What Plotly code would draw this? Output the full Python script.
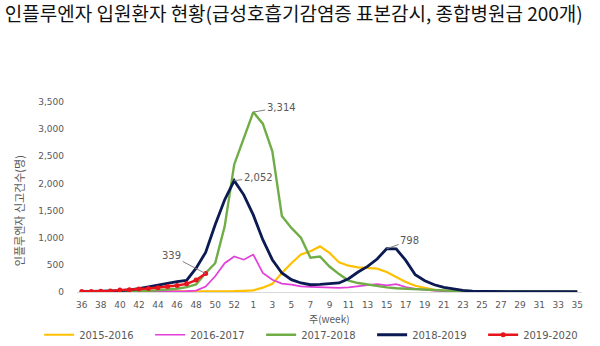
import plotly.graph_objects as go

weeks = [str(w) for w in list(range(36, 54)) + list(range(1, 36))]

s2015 = [3, 3, 3, 3, 3, 3, 4, 4, 5, 5, 5, 6, 6, 7, 8, 10, 15, 22,
         30, 80, 150, 350, 530, 690, 750, 840, 720, 545, 485, 455, 440, 430, 370,
         270, 185, 115, 75, 40, 25, 15, 10, 8, 6, 5, 5, 4, 4, 4, 3, 3, 3, 3, 3]
s2016 = [5, 5, 5, 5, 6, 6, 7, 8, 8, 10, 12, 15, 25, 100, 290, 530, 655, 595,
         690, 350, 225, 155, 135, 105, 95, 85, 80, 75, 85, 100, 128, 145, 122,
         145, 92, 60, 40, 25, 15, 10, 8, 6, 5, 5, 4, 4, 4, 3, 3, 3, 3, 3, 3]
s2017 = [3, 3, 4, 5, 7, 10, 14, 20, 30, 42, 60, 90, 140, 350, 530, 1210, 2350, 2830,
         3314, 3100, 2590, 1400, 1180, 1000, 630, 655, 470, 330, 210, 165, 135, 105, 85,
         70, 60, 50, 40, 30, 25, 20, 15, 12, 10, 10, 10, 12, 15, 18, 12, 8, 6, 5, 5]
s2018 = [5, 7, 10, 15, 25, 40, 60, 95, 128, 165, 190, 214, 440, 730, 1240, 1700, 2052, 1790,
         1420, 963, 595, 350, 227, 166, 134, 140, 150, 166, 245, 368, 472, 608, 798,
         795, 582, 318, 208, 134, 85, 55, 30, 15, 10, 8, 8, 7, 7, 6, 6, 6, 5, 5, 5]
s2019 = [8, 10, 15, 20, 35, 40, 55, 65, 80, 100, 120, 150, 220, 339]

series = [
    ("2015-2016", s2015, "#FFC000", 2.2),
    ("2016-2017", s2016, "#E33FD9", 1.7),
    ("2017-2018", s2017, "#70AD47", 2.4),
    ("2018-2019", s2018, "#0B1A52", 2.8),
]

labels = [("1", 3314, "3,314", 28, -5), ("52", 2052, "2,052", 24, -3),
          ("49", 339, "339", -34, -18), ("15", 798, "798", 23, -8)]

fig = go.Figure()
for name, vals, col, w in series:
    fig.add_trace(go.Scatter(x=weeks, y=vals, name=name, mode="lines",
                             line=dict(color=col, width=w)))
fig.add_trace(go.Scatter(x=weeks[:len(s2019)], y=s2019, name="2019-2020", mode="lines+markers",
                         line=dict(color="#E8141B", width=2.4),
                         marker=dict(color="#E8141B", size=5)))

for wk, yv, txt, ax, ay in labels:
    fig.add_annotation(x=weeks.index(wk), y=yv, xref="x", yref="y", text=txt, showarrow=True,
                       arrowhead=0, arrowwidth=1, arrowcolor="#808080",
                       ax=ax, ay=ay, font=dict(size=10, color="#595959"))

fig.add_annotation(text="인플루엔자 신고건수(명)", xref="paper", yref="paper", x=0, y=0.428,
                   xshift=-58.5, xanchor="center", yanchor="middle", textangle=-90,
                   showarrow=False, font=dict(family="Noto Sans CJK KR", size=11, color="#595959"))
fig.add_annotation(text="주(week)", xref="paper", yref="paper", x=0.5, y=-0.14,
                   xanchor="center", yanchor="middle", showarrow=False,
                   font=dict(family="Noto Sans CJK KR", size=10, color="#595959"))

fig.update_layout(
    width=600, height=346, autosize=False,
    margin=dict(l=77, r=18, t=102, b=54, autoexpand=False),
    paper_bgcolor="white", plot_bgcolor="white",
    font=dict(family="DejaVu Sans", size=9, color="#595959"),
    title=dict(text="인플루엔자 입원환자 현황(급성호흡기감염증 표본감시, 종합병원급 200개)",
               x=0.008, xanchor="left", y=1 - 14 / 346, yanchor="middle",
               font=dict(family="Noto Sans CJK KR", size=19, color="#111111")),
    showlegend=True,
    legend=dict(orientation="h", xref="paper", yref="paper",
                x=-0.075, y=-0.225, xanchor="left", yanchor="middle",
                font=dict(size=10, color="#595959"), entrywidth=66,
                bgcolor="rgba(0,0,0,0)"),
)
fig.update_xaxes(type="category", range=[-0.5, 52.5], tickmode="array",
                 tickvals=weeks[::2], ticktext=weeks[::2], showgrid=False,
                 showline=True, linecolor="#D9D9D9", linewidth=1, ticks="",
                 tickfont=dict(size=9, color="#595959"), ticklabelstandoff=4)
fig.update_yaxes(range=[0, 3500], tickvals=[0, 500, 1000, 1500, 2000, 2500, 3000, 3500],
                 tickformat=",", showgrid=False, zeroline=False, showline=False,
                 ticks="", ticklabelstandoff=12, tickfont=dict(size=9, color="#595959"))

fig.write_html("out.html")
